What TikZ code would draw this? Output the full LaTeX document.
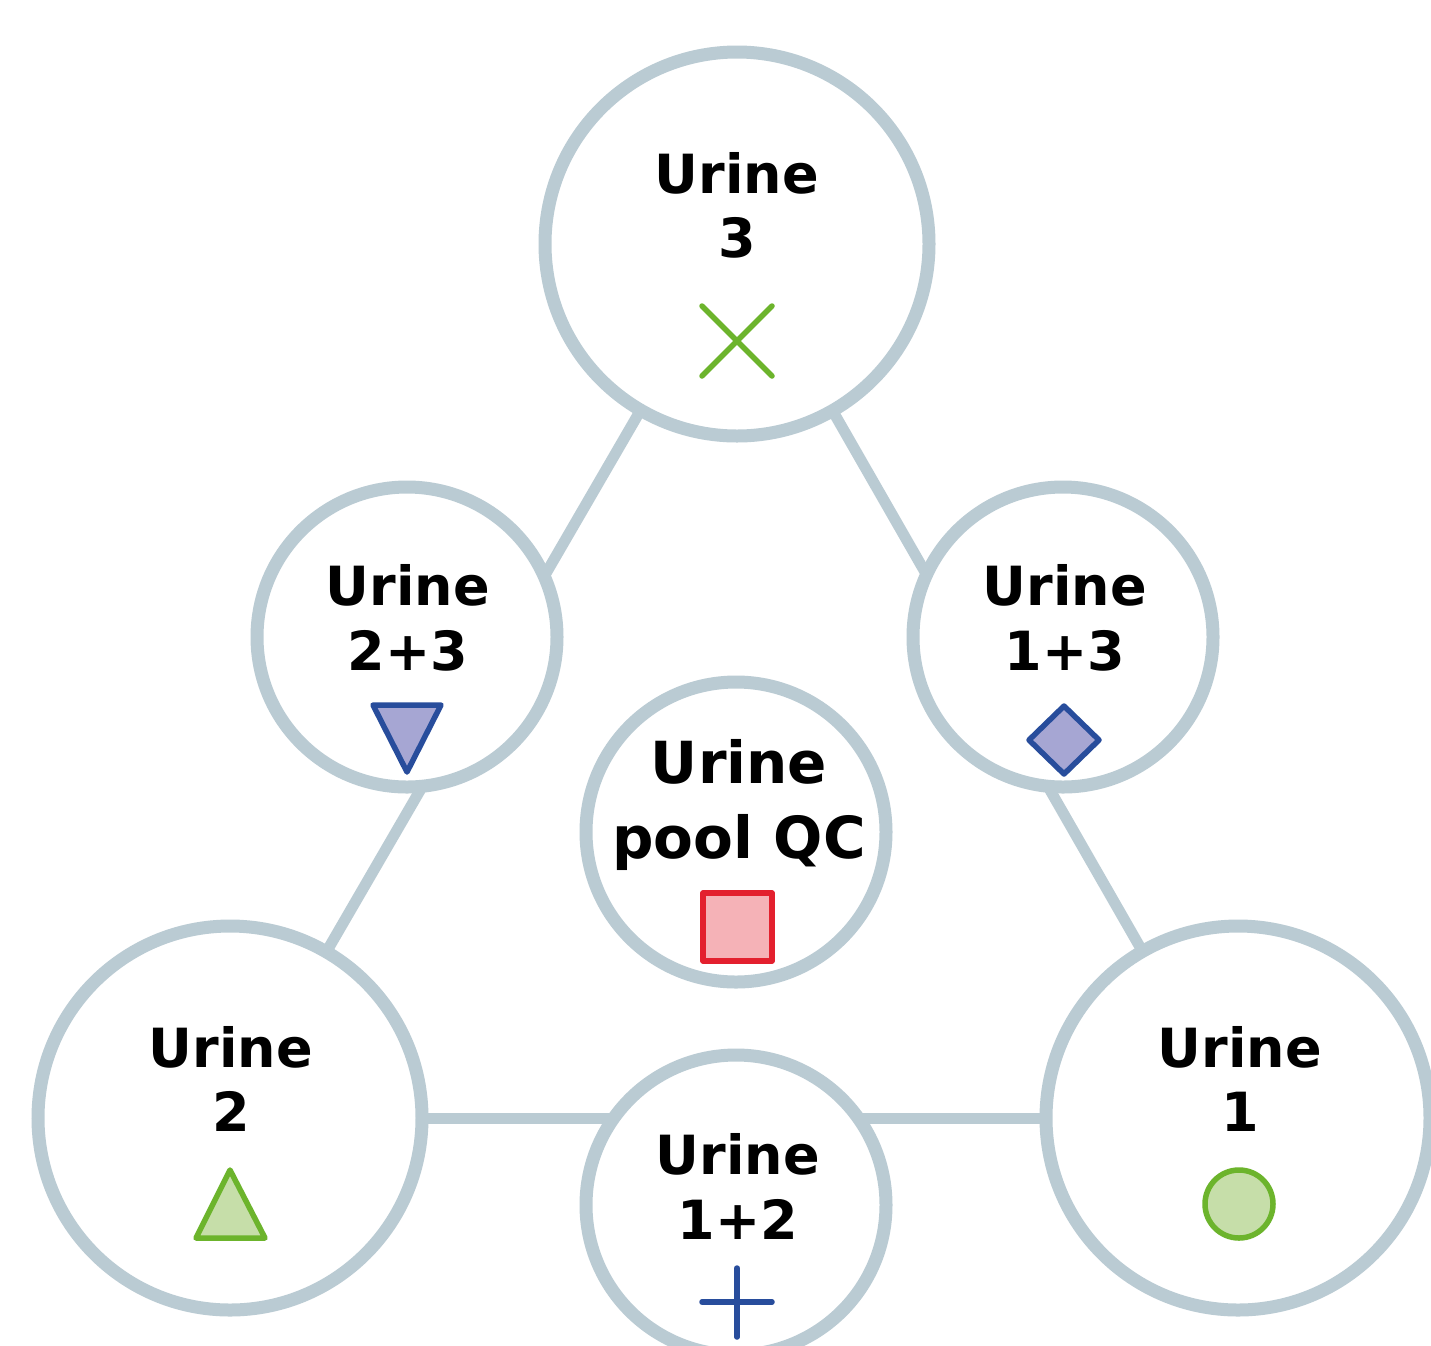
\documentclass[tikz,border=0pt]{standalone}
\usepackage{fontspec}
\setmainfont{DejaVu Sans}
\usetikzlibrary{backgrounds}
\definecolor{ringc}{HTML}{BACBD3}
\definecolor{mgreen}{HTML}{6CB42C}
\definecolor{lgreen}{HTML}{C6DEA9}
\definecolor{mblue}{HTML}{284D9C}
\definecolor{lav}{HTML}{A6A6D3}
\definecolor{mred}{HTML}{E3202E}
\definecolor{mpink}{HTML}{F5B2B7}
\begin{document}
\begin{tikzpicture}[x=1pt,y=-1pt,
  ring/.style={circle,draw=ringc,line width=13pt,fill=white,inner sep=0pt,outer sep=0pt},
  big/.style={ring,minimum size=384pt},
  small/.style={ring,minimum size=300pt},
  lbl/.style={anchor=base,inner sep=0pt,font=\fontsize{54}{64}\selectfont\bfseries},
  lblqc/.style={anchor=base,inner sep=0pt,font=\fontsize{58}{70}\selectfont\bfseries},
  link/.style={draw=ringc,line width=11pt},
  gmark/.style={draw=mgreen,line width=5.5pt,line join=round,line cap=round},
  bmark/.style={draw=mblue,line width=5.5pt,line join=round,line cap=round},
]
\clip (0,0) rectangle (1431,1345);
% circles
\node[big]   (u3)  at (737,244) {};
\node[big]   (u2)  at (230,1118) {};
\node[big]   (u1)  at (1238,1118) {};
\node[small] (u23) at (407,637) {};
\node[small] (u13) at (1063,637) {};
\node[small] (uqc) at (736,832) {};
\node[small] (u12) at (736,1205) {};
% connectors
\begin{scope}[on background layer]
\fill[white] (0,0) rectangle (1431,1345);
\draw[link] (u3.center) -- (u2.center);
\draw[link] (u3.center) -- (u1.center);
\draw[link] (u2.center) -- (u1.center);
\end{scope}
% labels
\node[lbl] (t3a) at (737,193) {Urine};
\node[lbl] (t3b) at (737,257) {3};
\node[lbl] (t23a) at (408,605) {Urine};
\node[lbl] (t23b) at (408,670) {2+3};
\node[lbl] (t13a) at (1065,605) {Urine};
\node[lbl] (t13b) at (1065,670) {1+3};
\node[lblqc] (tqca) at (739,783) {Urine};
\node[lblqc] (tqcb) at (739,858) {pool QC};
\node[lbl] (t2a) at (231,1067) {Urine};
\node[lbl] (t2b) at (231,1131) {2};
\node[lbl] (t1a) at (1240,1067) {Urine};
\node[lbl] (t1b) at (1240,1131) {1};
\node[lbl] (t12a) at (738,1174) {Urine};
\node[lbl] (t12b) at (738,1239) {1+2};
% markers
\draw[gmark] (702,306) -- (772,376) (772,306) -- (702,376);
\draw[bmark,fill=lav] (373,705) -- (441,705) -- (407,772) -- cycle;
\draw[bmark,fill=lav] (1064,706) -- (1099,740) -- (1064,774) -- (1029,740) -- cycle;
\draw[draw=mred,line width=5.5pt,line join=round,fill=mpink] (703,893) rectangle (772,961);
\draw[gmark,fill=lgreen] (230,1170) -- (265,1238) -- (196,1238) -- cycle;
\draw[gmark,fill=lgreen] (1239,1204) circle (34);
\draw[bmark] (702,1302) -- (772,1302) (737,1268) -- (737,1337);
\end{tikzpicture}
\end{document}
